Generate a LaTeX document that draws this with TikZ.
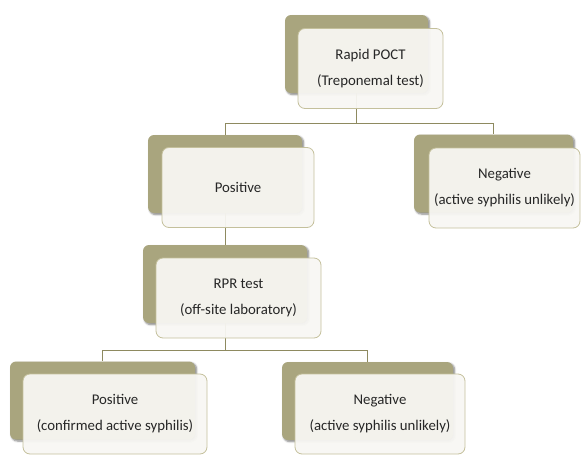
\documentclass[tikz,border=0pt]{standalone}
\usepackage{fontspec}
\setmainfont{Carlito}
\usetikzlibrary{shadows.blur}

\definecolor{olive}{RGB}{169,165,126}
\definecolor{oliveline}{RGB}{142,138,96}
\definecolor{oliveedge}{RGB}{196,192,156}
\definecolor{paper}{RGB}{248,247,243}

\begin{document}
\begin{tikzpicture}[x=1pt, y=-1pt,
  back/.style={rectangle, rounded corners=6pt, fill=olive, minimum height=78pt, inner sep=0pt,
    blur shadow={shadow xshift=1.5pt, shadow yshift=-1.5pt, shadow blur steps=6, shadow opacity=50}},
  front/.style={rectangle, rounded corners=7pt, draw=oliveedge, line width=0.8pt, fill=paper, fill opacity=0.94,
    text opacity=1, minimum height=80pt, inner sep=0pt, align=center,
    font=\fontsize{14.8}{26}\selectfont, text=black!85},
  link/.style={draw=oliveline, line width=0.8pt}]
\useasboundingbox (0,0) rectangle (581,455);
% back boxes
\node[back, minimum width=143pt] (rapidbk) at (356.5,54) {};
\node[back, minimum width=154pt] (posbk) at (225,174) {};
\node[back, minimum width=159pt] (negbk) at (493.5,173.5) {};
\node[back, minimum width=164pt] (rprbk) at (225,284) {};
\node[back, minimum width=185pt] (confbk) at (102.5,400.5) {};
\node[back, minimum width=171pt] (unlbk) at (367.5,401) {};
% connectors
\coordinate (split1) at (356.5,123);
\coordinate (split2) at (225,350);
\draw[link] (rapidbk.south) -- (split1) -| (posbk.north);
\draw[link] (split1) -| (negbk.north);
\draw[link] (posbk.south) -- (rprbk.north);
\draw[link] (rprbk.south) -- (split2) -| (confbk.north);
\draw[link] (split2) -| (unlbk.north);
% front boxes
\node[front, minimum width=145pt] (rapid) at (370.5,68.5) {Rapid POCT\\(Treponemal test)};
\node[front, minimum width=152pt] (pos) at (238,187.5) {Positive};
\node[front, minimum width=151pt] (neg) at (504.5,188) {Negative\\(active syphilis unlikely)};
\node[front, minimum width=165pt] (rpr) at (238.5,298) {RPR test\\(off-site laboratory)};
\node[front, minimum width=184pt] (conf) at (115,414) {Positive\\(confirmed active syphilis)};
\node[front, minimum width=170pt] (unl) at (380,414) {Negative\\(active syphilis unlikely)};
\end{tikzpicture}
\end{document}
